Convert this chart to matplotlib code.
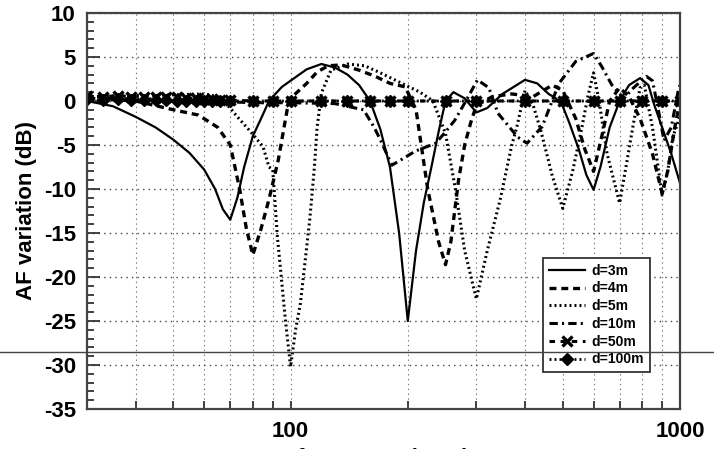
import matplotlib
matplotlib.use("Agg")
import matplotlib.pyplot as plt
from matplotlib.lines import Line2D
from matplotlib.ticker import FixedLocator, MultipleLocator, NullFormatter

plt.rcParams["font.family"] = ["Liberation Sans", "DejaVu Sans"]
plt.rcParams["font.weight"] = "bold"
plt.rcParams["lines.scale_dashes"] = False
plt.rcParams["axes.unicode_minus"] = False

# d = 3 m
f_3m = [30, 35, 40, 45, 50, 55, 60, 64, 67, 70, 73, 76, 80, 85, 88, 95, 100, 110,
        120, 130, 140, 150, 160, 170, 180, 190, 200, 210, 220, 230, 240, 250, 262,
        280, 300, 320, 350, 400, 430, 460, 480, 500, 520, 550, 575, 600, 625, 660,
        700, 740, 790, 830, 860, 900, 950, 1000]
af_3m = [0, -0.6, -1.8, -3.0, -4.4, -5.9, -7.8, -10.0, -12.3, -13.5, -11.0, -7.5,
         -4.0, -1.5, 0, 1.6, 2.3, 3.6, 4.2, 3.8, 3.0, 1.8, 0, -3.2, -7.5, -15, -25,
         -17, -11.5, -7.5, -3.5, 0, 1.0, 0.3, -1.3, -0.8, 0.8, 2.4, 2.0, 0.8, 0.3,
         -0.6, -2.5, -5.5, -8.4, -10.1, -7.5, -3.0, 0, 1.8, 2.6, 1.8, -0.5, -3.0,
         -6.0, -9.3]

# d = 4 m
f_4m = [30, 40, 50, 58, 65, 70, 74, 77, 80, 84, 88, 93, 98, 100, 110, 117, 125, 135,
        150, 165, 180, 197, 210, 225, 240, 250, 258, 270, 280, 290, 300, 330, 370,
        420, 470, 500, 540, 570, 600, 630, 660, 700, 740, 790, 850, 900, 930, 970,
        1000]
af_4m = [0.3, 0, -1.0, -1.6, -3.0, -5.0, -10, -14.5, -17.5, -14.5, -11.2, -6.7,
         -1.0, 0.3, 2.0, 3.3, 4.0, 4.1, 3.5, 2.8, 2.0, 1.6, -1.0, -10, -16, -18.6,
         -16, -9, -5, -2.5, -0.5, 0.5, 0.8, 0.5, 1.8, 1.2, -2, -5.5, -8, -4, 0,
         1.5, 0.5, -2, -6, -10.5, -8, -3, 0]

# d = 5 m
f_5m = [30, 40, 50, 60, 65, 70, 73, 79, 85, 88, 90, 92.5, 97, 100, 103, 106, 112,
        115, 117, 120, 127, 140, 155, 170, 189, 215, 232, 250, 265, 280, 300, 320,
        345, 370, 381, 400, 420, 440, 470, 500, 530, 560, 580, 600, 620, 650, 700,
        730, 760, 790, 810, 850, 900, 930, 960, 1000]
af_5m = [0.5, 0.6, 0.7, 0.8, 0.5, -0.8, -1.8, -3.5, -5.2, -7.5, -7.8, -15.4, -24.9,
         -30.2, -26, -23, -13.5, -7.8, -3, 0.9, 3.5, 4.2, 4.0, 3.2, 2.2, 1.0, 0,
         -3.7, -10, -17, -22.5, -17, -11.3, -5, -3, 1.2, -0.5, -3.5, -8.5, -12.2,
         -8, -3, 0.5, 3.2, 0, -6, -11.6, -7, -2.5, 1.5, 1.8, -3, -10.7, -8, -4, -1.8]

# d = 10 m
f_10m = [30, 50, 60, 70, 80, 100, 130, 154, 164, 170, 182, 197, 209, 236, 249, 264,
         282, 302, 323, 341, 383, 405, 443, 489, 540, 600, 630, 669, 717, 760, 820,
         850, 880, 910, 950, 990, 1000]
af_10m = [0.3, 0.2, 0, -0.1, -0.2, -0.2, -0.3, -1.0, -3.0, -4.4, -7.3, -6.4, -5.7,
          -4.8, -3.6, -2.2, 0, 2.4, 1.5, -1.4, -4.1, -4.8, -2.9, 2.0, 4.5, 5.4,
          3.9, 1.8, 0.3, 1.5, 2.8, 2.3, -1.0, -4.5, -3.0, 1.2, 1.8]

# d = 50 m and d = 100 m (almost flat)
f_far = [30, 33, 36, 39, 42, 45, 48, 51, 54, 57, 60, 63, 66, 70, 80, 90, 100, 120,
         140, 160, 180, 200, 250, 300, 400, 500, 600, 700, 800, 900, 1000]
af_50m = [0.6, 0.5, 0.6, 0.5, 0.5, 0.5, 0.4, 0.4, 0.3, 0.3, 0.2, 0.2, 0.1, 0.1, 0,
          0, 0, 0, 0, 0, 0, 0, 0, 0, 0, 0, 0, 0, 0, 0, 0]
af_100m = [0.2, 0.1, 0.2, 0.1, 0.1, 0.1, 0.1, 0, 0, 0, 0, 0, 0, 0, 0, 0, 0, 0, 0, 0,
           0, 0, 0, 0, 0, 0, 0, 0, 0, 0, 0]

x_minor = [40, 50, 60, 70, 80, 90, 200, 300, 400, 500, 600, 700, 800, 900]

fig = plt.figure(figsize=(7.14, 4.49), dpi=100)
ax = fig.add_axes([0.1218, 0.0891, 0.8305, 0.882])

ax.plot(f_3m, af_3m, color="black", lw=1.6, ls="-", label="d=3m")
ax.plot(f_4m, af_4m, color="black", lw=2.4, ls=(0, (5, 3.5)), label="d=4m")
ax.plot(f_5m, af_5m, color="black", lw=2.2, ls=(0, (1.4, 2.2)), label="d=5m")
ax.plot(f_10m, af_10m, color="black", lw=2.2, ls=(0, (6, 3, 1.5, 3)), label="d=10m")
ax.plot(f_far, af_50m, color="black", lw=2.2, ls=(0, (4, 4)), marker="x",
        markersize=6.5, markeredgewidth=2.4, label="d=50m")
ax.plot(f_far, af_100m, color="black", lw=2.0, ls=(0, (1.4, 2.2)), marker="D",
        markersize=6, label="d=100m")

ax.set_xscale("log")
ax.set_xlim(30, 1000)
ax.set_ylim(-35, 10)

ax.xaxis.set_major_locator(FixedLocator([100, 1000]))
ax.xaxis.set_minor_locator(FixedLocator(x_minor))
ax.xaxis.set_minor_formatter(NullFormatter())
ax.set_xticklabels(["100", "1000"])
ax.yaxis.set_major_locator(MultipleLocator(5))
ax.yaxis.set_minor_locator(MultipleLocator(1))

ax.tick_params(which="both", direction="in", top=False, right=False,
               labelsize=16, width=1.3, color="#333333")
ax.tick_params(axis="y", which="major", length=9, pad=8)
ax.tick_params(axis="y", which="minor", length=5)
ax.tick_params(axis="x", which="both", length=6, pad=9)
for lbl in ax.get_xticklabels() + ax.get_yticklabels():
    lbl.set_fontweight("bold")

ax.grid(True, which="major", axis="y", ls=(0, (1, 3)), color="#444444", lw=1.0)
ax.grid(True, which="both", axis="x", ls=(0, (1, 2.5)), color="#777777", lw=0.8)

for sp in ax.spines.values():
    sp.set_linewidth(1.6)
    sp.set_color("#444444")

ax.set_ylabel("AF variation (dB)", fontsize=16, fontweight="bold", labelpad=5)
ax.set_xlabel("frequency (MHz)", fontsize=16, fontweight="bold", labelpad=4)

leg = ax.legend(loc="upper left", bbox_to_anchor=(0.769, 0.381),
                prop={"weight": "bold", "size": 10}, frameon=True, fancybox=False,
                framealpha=1, edgecolor="#333333", handlelength=2.6,
                labelspacing=0.27, borderpad=0.4, handletextpad=0.5,
                borderaxespad=0)
leg.get_frame().set_linewidth(1.3)

# stray horizontal rule running across the whole picture
fig.add_artist(Line2D([0, 1], [0.216, 0.216], transform=fig.transFigure,
                      color="#444444", lw=1.0))

fig.savefig("out.png", dpi=100)
